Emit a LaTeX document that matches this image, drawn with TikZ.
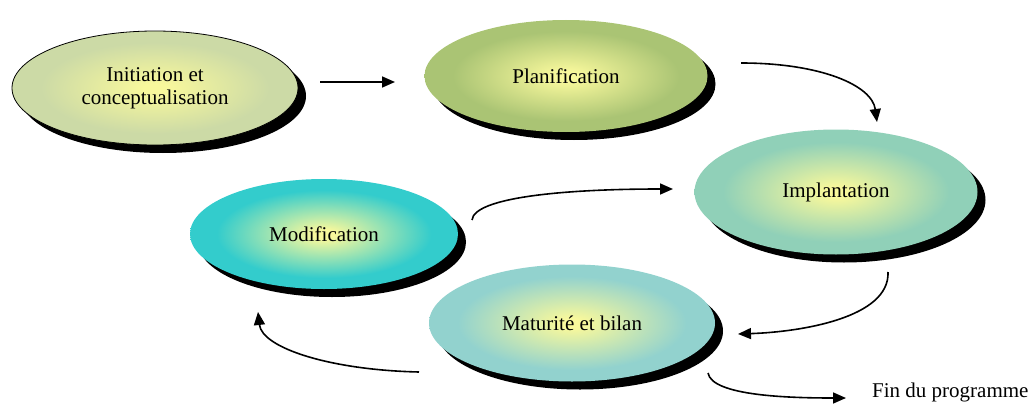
\documentclass[tikz,border=0pt]{standalone}
\usepackage{fontspec}
\setmainfont{Liberation Serif}
\usetikzlibrary{arrows.meta,shapes.geometric,shadows}
\definecolor{innery}{HTML}{F8F89C}
\definecolor{initc}{HTML}{CCDAA6}
\definecolor{planc}{HTML}{AAC474}
\definecolor{implc}{HTML}{90D0B8}
\definecolor{modc}{HTML}{33CCCC}
\definecolor{matc}{HTML}{92D2CE}
\newcommand\mkellshade[2]{\pgfdeclareradialshading{#1}{\pgfpoint{0bp}{0bp}}{color(0bp)=(innery); color(2bp)=(innery); color(20bp)=(#2); color(25bp)=(#2); color(50bp)=(#2)}}
\mkellshade{shinit}{initc}
\mkellshade{shplan}{planc}
\mkellshade{shimpl}{implc}
\mkellshade{shmod}{modc}
\mkellshade{shmat}{matc}
\tikzset{
  phase/.style={ellipse, inner sep=0pt, align=center,
    font=\fontsize{21}{23}\selectfont,
    general shadow={fill=black, shadow xshift=8pt, shadow yshift=-8pt}},
  arr/.style={line width=1.6pt, -{Triangle[length=13pt,width=11pt]}},
  lbl/.style={font=\fontsize{21}{23}\selectfont}
}
\begin{document}
\begin{tikzpicture}[x=1pt,y=-1pt]
\useasboundingbox (0,0) rectangle (1033,404);
\node[phase, shading=shinit, draw=black, line width=0.8pt, minimum width=286pt, minimum height=114pt] (init) at (155,88) {Initiation et\\conceptualisation};
\node[phase, shading=shplan, minimum width=283pt, minimum height=112pt] (plan) at (566,76) {Planification};
\node[phase, shading=shimpl, minimum width=283pt, minimum height=125pt] (impl) at (836,192) {Implantation};
\node[phase, shading=shmod, minimum width=268pt, minimum height=110pt] (modif) at (324,234) {Modification};
\node[phase, shading=shmat, minimum width=286pt, minimum height=117pt] (mat) at (572,323) {Maturité et bilan};
\node[lbl, anchor=west, inner sep=0pt] (fin) at (872,392) {Fin du programme};
% connector ends
\coordinate (a1s) at (320,82);
\coordinate (a1e) at (395,82);
\coordinate (a2s) at (741,63);
\coordinate (a2e) at (877,122);
\coordinate (a3s) at (472,220);
\coordinate (a3e) at (673,189);
\coordinate (a4s) at (888,272);
\coordinate (a4e) at (738,334);
\coordinate (a5s) at (419,372);
\coordinate (a5e) at (258,312);
\coordinate (a6s) at (708,373);
\coordinate (a6e) at (846,398);
\draw[arr] (a1s) -- (a1e);
\draw[arr] (a2s) .. controls (820,63) and (872,85) .. (a2e);
\draw[arr] (a3s) .. controls (474,198) and (560,189) .. (a3e);
\draw[arr] (a4s) .. controls (890,318) and (800,332) .. (a4e);
\draw[arr] (a5s) .. controls (330,370) and (262,348) .. (a5e);
\draw[arr] (a6s) .. controls (712,396) and (790,398) .. (a6e);
\end{tikzpicture}
\end{document}
